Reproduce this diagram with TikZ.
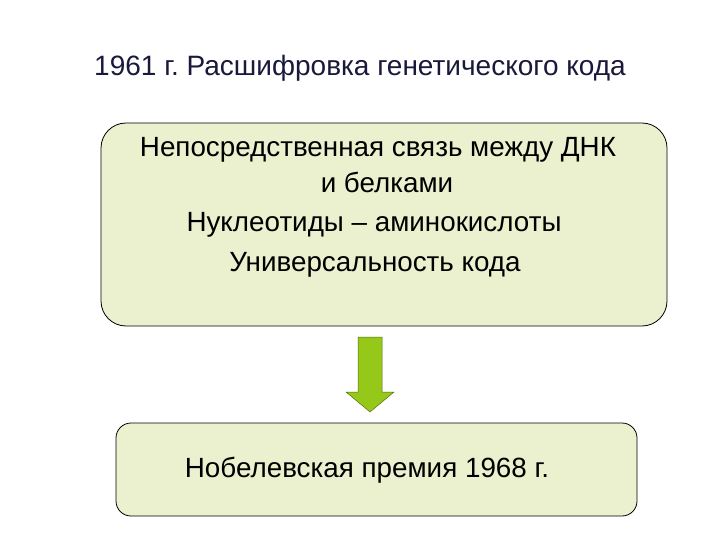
\documentclass[tikz,border=0pt]{standalone}
\usepackage{fontspec}
\setmainfont{Liberation Sans}
\frenchspacing
\definecolor{boxfill}{RGB}{235,241,206}
\definecolor{arrowfill}{RGB}{150,200,25}
\definecolor{arrowline}{RGB}{80,110,20}
\definecolor{titlecol}{RGB}{25,25,60}
\begin{document}
\begin{tikzpicture}[x=1pt,y=-1pt,
  infobox/.style={draw=black,line width=0.8pt,fill=boxfill},
  txt/.style={anchor=base,inner sep=0pt,font=\fontsize{27.8}{32}\selectfont}]
\useasboundingbox[fill=white] (0,0) rectangle (720,540);
\node[txt,text=titlecol,font=\fontsize{28}{33}\selectfont\frenchspacing] (title) at (360,76) {1961 г. Расшифровка генетического кода};
\draw[infobox,rounded corners=25pt] (101,123) rectangle (667,326);
\node[txt] (l1) at (378,157) {Непосредственная связь между ДНК};
\node[txt] (l2) at (387,193) {и белками};
\node[txt] (l3) at (374,231) {Нуклеотиды – аминокислоты};
\node[txt] (l4) at (375,271) {Универсальность кода};
\draw[fill=arrowfill,draw=arrowline,line width=0.5pt]
  (358,337) -- (382,337) -- (382,392) -- (394,392) -- (370,412) -- (346,392) -- (358,392) -- cycle;
\draw[infobox,rounded corners=15pt] (116,423) rectangle (637,516);
\node[txt] (prize) at (367,477) {Нобелевская премия 1968 г.};
\end{tikzpicture}
\end{document}
